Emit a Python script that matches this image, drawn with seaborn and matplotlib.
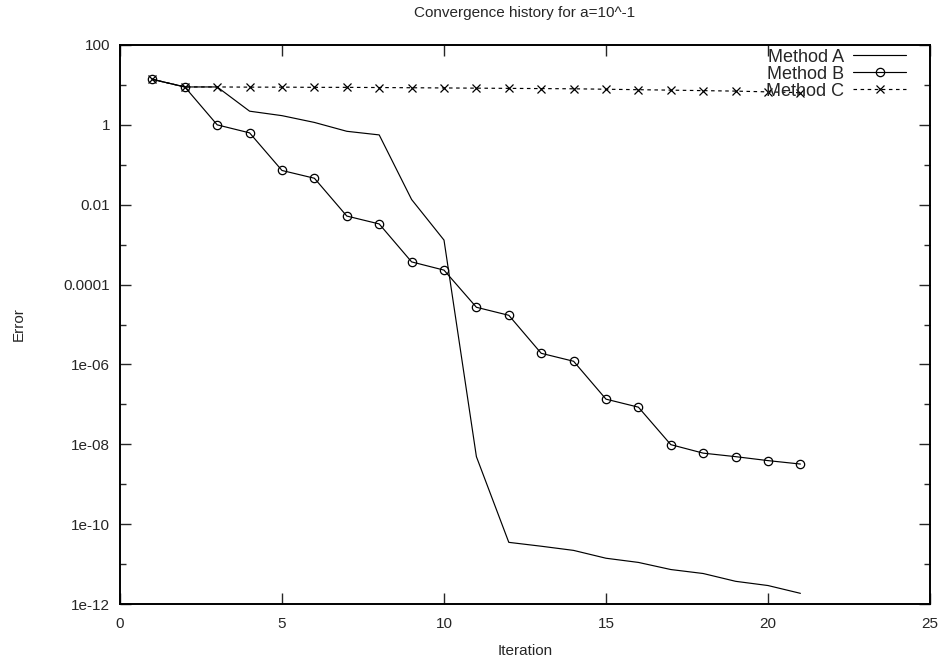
import numpy as np
import pandas as pd
import matplotlib
matplotlib.use("Agg")
import matplotlib.pyplot as plt
import seaborn as sns
from matplotlib.ticker import FixedLocator, NullFormatter

iterations = list(range(1, 22))
method_a = [13.8, 8.9, 8.9, 2.2, 1.7, 1.15, 0.69, 0.56, 0.0135, 1.3e-3,
            4.9e-9, 3.5e-11, 2.8e-11, 2.2e-11, 1.4e-11, 1.1e-11, 7.3e-12,
            5.8e-12, 3.7e-12, 2.9e-12, 1.85e-12]
method_b = [13.8, 8.9, 1.0, 0.63, 0.072, 0.046, 0.0052, 0.0033, 3.7e-4, 2.3e-4,
            2.7e-5, 1.7e-5, 1.9e-6, 1.2e-6, 1.35e-7, 8.5e-8, 9.8e-9, 6.0e-9,
            4.9e-9, 3.9e-9, 3.2e-9]
method_c = [13.8, 8.9, 8.9, 8.8, 8.8, 8.7, 8.7, 8.6, 8.5, 8.4, 8.3, 8.2, 8.1,
            8.0, 7.8, 7.6, 7.4, 7.2, 7.0, 6.7, 6.4]
y_ticks = [1e2, 1, 1e-2, 1e-4, 1e-6, 1e-8, 1e-10, 1e-12]
y_tick_labels = ["100", "1", "0.01", "0.0001", "1e-06", "1e-08", "1e-10", "1e-12"]
x_ticks = [0, 5, 10, 15, 20, 25]

sns.set_style("ticks")
plt.rcParams['font.family'] = ['Liberation Sans', 'DejaVu Sans']

fig = plt.figure(figsize=(9.43, 6.62), dpi=100)
ax = fig.add_axes([120/943, 1 - 604/662, (930-120)/943, (604-45)/662])

df = pd.DataFrame({"Iteration": iterations, "A": method_a, "B": method_b, "C": method_c})

sns.lineplot(data=df, x="Iteration", y="A", ax=ax, color="black", lw=0.85,
             label="Method A")
sns.lineplot(data=df, x="Iteration", y="B", ax=ax, color="black", lw=0.85,
             marker="o", markersize=6, markerfacecolor="none",
             markeredgecolor="black", markeredgewidth=0.9, label="Method B")
sns.lineplot(data=df, x="Iteration", y="C", ax=ax, color="black", lw=0.85,
             linestyle=(0, (3, 3)), marker="x", markersize=6,
             markeredgecolor="black", markeredgewidth=0.9, label="Method C")

ax.set_yscale("log")
ax.set_xlim(0, 25)
ax.set_ylim(1e-12, 100)
ax.yaxis.set_major_locator(FixedLocator(y_ticks))
ax.set_yticklabels(y_tick_labels)
ax.yaxis.set_minor_locator(FixedLocator([1e1, 1e-1, 1e-3, 1e-5, 1e-7, 1e-9, 1e-11]))
ax.yaxis.set_minor_formatter(NullFormatter())
ax.set_xticks(x_ticks)
ax.set_xticklabels([str(t) for t in x_ticks])

ax.tick_params(which="major", direction="in", length=8, width=1.0,
               top=True, right=True, labelsize=11)
ax.tick_params(axis="y", which="major", pad=7)
ax.tick_params(axis="x", which="major", pad=9)
ax.tick_params(which="minor", direction="in", length=4, width=1.0,
               top=False, right=True)
for s in ax.spines.values():
    s.set_linewidth(1.4)
    s.set_color("black")

ax.set_xlabel("Iteration", fontsize=11, labelpad=10)
ax.set_ylabel("Error", fontsize=11, labelpad=27)
ax.set_title("Convergence history for a=10^-1", fontsize=11, pad=20)

leg = ax.legend(loc="upper right", bbox_to_anchor=(1 - 20/810, 1.0),
                frameon=False, markerfirst=False,
                fontsize=13, handlelength=2.95, handletextpad=0.5,
                labelspacing=0.0, borderaxespad=0.0, borderpad=0.2,
                markerscale=1.0)
for t in leg.get_texts():
    t.set_ha("right")

fig.savefig("out.png", dpi=100)
